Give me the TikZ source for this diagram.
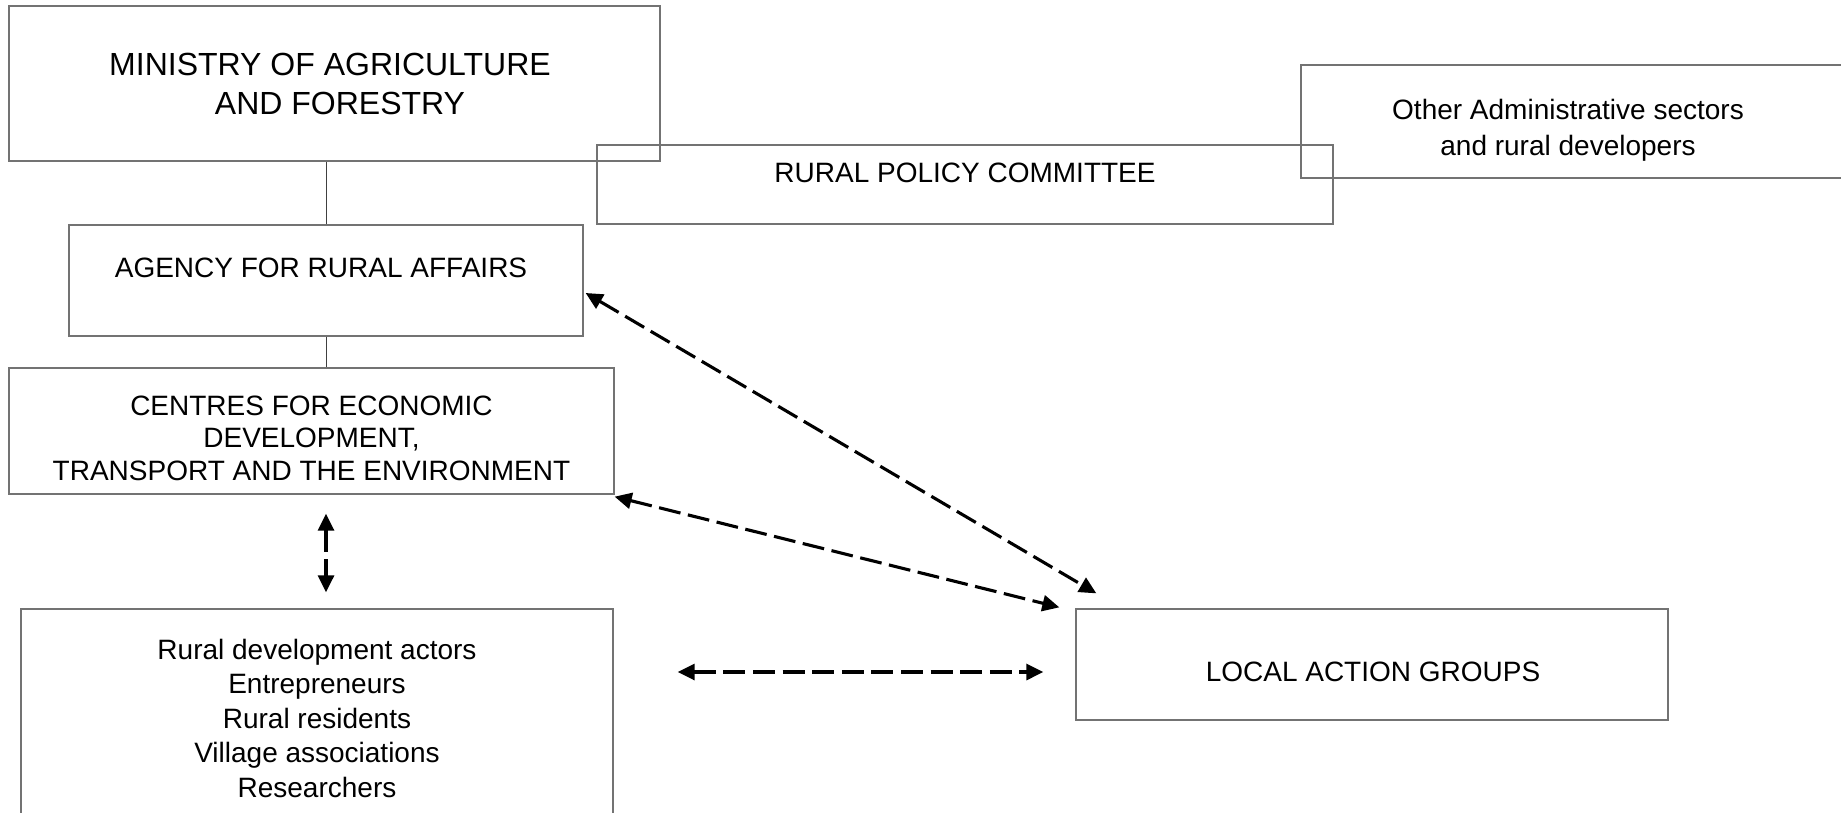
\documentclass[tikz,border=0pt]{standalone}
\usepackage{fontspec}
\setmainfont{Liberation Sans}
\usetikzlibrary{calc,arrows.meta}
\tikzset{
  box/.style={draw=black!55, line width=0.65pt, rectangle, inner sep=0pt},
  lbl/.style={inner sep=0pt, align=center, font=\fontsize{14}{17}\selectfont},
  conn/.style={draw=black!75, line width=0.5pt},
  darr/.style={line width=1.55pt, dash pattern=on 11pt off 3.8pt,
    {Triangle[length=8.5pt,width=8pt]}-{Triangle[length=8.5pt,width=8pt]}},
}
\begin{document}
\begin{tikzpicture}[x=0.5pt,y=-0.5pt]
\useasboundingbox (0,0) rectangle (1841,813);
\clip (0,0) rectangle (1841,813);
% boxes
\node[box, minimum width=325.5pt, minimum height=77.5pt] (ministry) at (334.5,83.5) {};
\node[box, minimum width=368pt, minimum height=39.5pt] (rpc) at (965,184.5) {};
\node[box, minimum width=274.5pt, minimum height=56.5pt] (other) at (1575.5,121.5) {};
\node[box, minimum width=257pt, minimum height=55.5pt] (agency) at (326,280.5) {};
\node[box, minimum width=302.5pt, minimum height=63pt] (centres) at (311.5,431) {};
\node[box, minimum width=296pt, minimum height=115.5pt] (rural) at (317,724.5) {};
\node[box, minimum width=296pt, minimum height=55.5pt] (lag) at (1372,664.5) {};
% texts
\node[lbl, font=\fontsize{16}{19.3}\selectfont] (ministryt) at (330,84) {MINISTRY OF AGRICULTURE\\\hspace*{10pt}AND FORESTRY};
\node[lbl] (rpct) at (965,173) {RURAL POLICY COMMITTEE};
\node[lbl, font=\fontsize{14}{18}\selectfont] (othert) at (1568,130) {Other Administrative sectors\\and rural developers};
\node[lbl] (agencyt) at (321,268) {AGENCY FOR RURAL AFFAIRS};
\node[lbl, font=\fontsize{14}{16.3}\selectfont] (centrest) at (311.5,438) {CENTRES FOR ECONOMIC\\DEVELOPMENT,\\TRANSPORT AND THE ENVIRONMENT};
\node[lbl, font=\fontsize{14}{17.25}\selectfont] (ruralt) at (317,718) {Rural development actors\\Entrepreneurs\\Rural residents\\Village associations\\Researchers};
\node[lbl] (lagt) at (1373,672) {LOCAL ACTION GROUPS};
% connectors
\draw[conn] (agency.north) -- (agency.north |- ministry.south);
\draw[conn] (agency.south) -- (agency.south |- centres.north);
\draw[darr] ($(centres.south -| agency.north)+(0,19)$) -- ($(rural.north -| agency.north)+(0,-16)$);
\draw[darr] ($(agency.east)+(2,12.5)$) -- ($(lag.north west)+(21,-15)$);
\draw[darr] ($(centres.south east)+(0,2)$) -- ($(lag.north west)+(-16,-1)$);
\draw[darr] ($(rural.east |- lagt)+(64,0)$) -- ($(lag.west |- lagt)+(-32,0)$);
\end{tikzpicture}
\end{document}
